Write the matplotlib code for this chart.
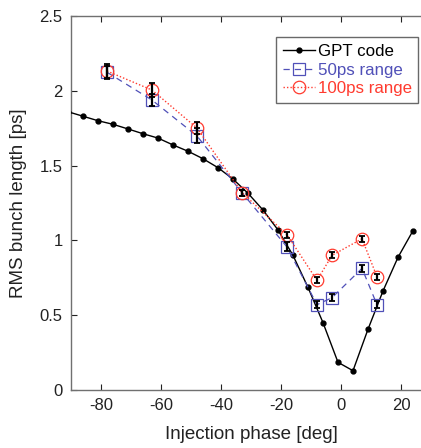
import matplotlib
matplotlib.use("Agg")
import matplotlib.pyplot as plt

# GPT simulation
gpt_phase = [-91, -86, -81, -76, -71, -66, -61, -56, -51, -46, -41, -36, -31, -26,
             -21, -16, -11, -6, -1, 4, 9, 14, 19, 24]
gpt_len = [1.86, 1.83, 1.80, 1.776, 1.745, 1.713, 1.684, 1.638, 1.596, 1.546, 1.486,
           1.41, 1.315, 1.203, 1.07, 0.90, 0.686, 0.45, 0.185, 0.129, 0.406, 0.662,
           0.887, 1.065]

# measurements
meas_phase = [-78, -63, -48, -33, -18, -8, -3, 7, 12]
r50_len = [2.124, 1.938, 1.698, 1.319, 0.956, 0.570, 0.617, 0.813, 0.570]
r50_err = [0.045, 0.04, 0.05, 0.02, 0.03, 0.025, 0.025, 0.025, 0.025]
r100_len = [2.132, 2.005, 1.751, 1.32, 1.038, 0.733, 0.90, 1.011, 0.757]
r100_err = [0.045, 0.045, 0.04, 0.02, 0.02, 0.02, 0.02, 0.02, 0.02]

xticks = [-80, -60, -40, -20, 0, 20]
yticks = [0, 0.5, 1, 1.5, 2, 2.5]
ytick_labels = ["0", "0.5", "1", "1.5", "2", "2.5"]

plt.rcParams['font.family'] = ['Liberation Sans', 'DejaVu Sans']

fig = plt.figure(figsize=(4.21, 4.48), dpi=100)
ax = fig.add_axes([71/421, 58/448, 360/421, 374/448])

blue = "#5050b8"
red = "#ff3b2f"

l1, = ax.plot(gpt_phase, gpt_len, color="black", lw=1.0, marker="o", ms=3.5,
              label="GPT code", zorder=3)
l2, = ax.plot(meas_phase, r50_len, color=blue, lw=0.9, ls=(0, (5, 4)), marker="s",
              ms=8, mfc="none", mec=blue, mew=0.9, label="50ps range", zorder=4)
ax.errorbar(meas_phase, r50_len, yerr=r50_err, fmt="none", ecolor="black",
            elinewidth=1.6, capsize=2.5, capthick=1.3, zorder=5)
l3, = ax.plot(meas_phase, r100_len, color=red, lw=1.0, ls=(0, (1, 1.5)), marker="o",
              ms=9, mfc="none", mec=red, mew=0.9, label="100ps range", zorder=4)
ax.errorbar(meas_phase, r100_len, yerr=r100_err, fmt="none", ecolor="black",
            elinewidth=1.6, capsize=2.5, capthick=1.3, zorder=5)

ax.set_xlim(-90, 30)
ax.set_ylim(0, 2.5)
ax.set_xticks(xticks)
ax.set_xticklabels([str(t) for t in xticks])
ax.set_yticks(yticks)
ax.set_yticklabels(ytick_labels)
ax.tick_params(direction="in", top=True, right=True, labelsize=12, colors="#222222",
               length=4, width=0.8, pad=6)
for tl in ax.get_xticklabels() + ax.get_yticklabels():
    tl.set_color("#222222")
for s in ax.spines.values():
    s.set_color("#707070")
    s.set_linewidth(1.0)

ax.set_xlabel("Injection phase [deg]", fontsize=13.5, color="#222222", labelpad=9)
ax.set_ylabel("RMS bunch length [ps]", fontsize=13.5, color="#222222", labelpad=9)

leg = ax.legend(handles=[l1, l2, l3], loc="upper left",
                bbox_to_anchor=(205/360, 1 - 21/374), fontsize=12.2,
                frameon=True, fancybox=False, edgecolor="#444444",
                handlelength=1.9, handletextpad=0.15, borderpad=0.4,
                labelspacing=0.22, borderaxespad=0)
leg.get_frame().set_linewidth(1.0)
for txt, c in zip(leg.get_texts(), ["black", blue, red]):
    txt.set_color(c)

fig.savefig("out.png", dpi=100)
